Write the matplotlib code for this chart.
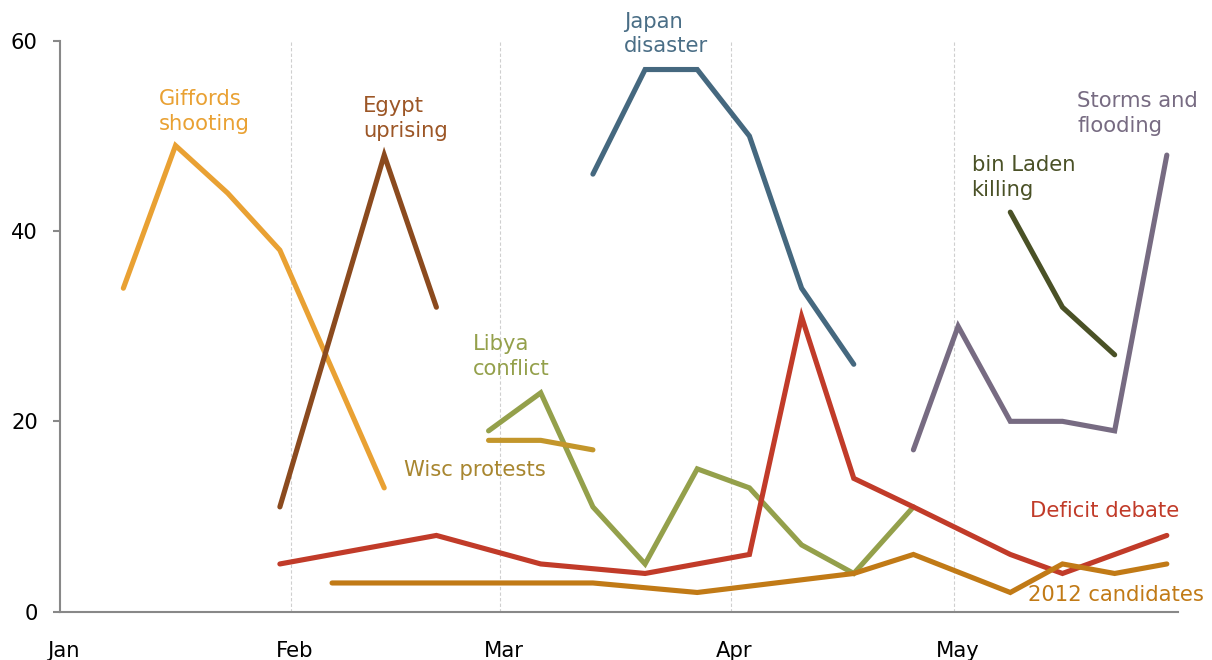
import matplotlib
matplotlib.use("Agg")
import matplotlib.pyplot as plt
import matplotlib.dates as mdates
import numpy as np

# Weekly news-coverage share (%) by story, 2011
giffords_dates = ["2011-01-09", "2011-01-16", "2011-01-23", "2011-01-30", "2011-02-13"]
giffords_vals = [34, 49, 44, 38, 13]

egypt_dates = ["2011-01-30", "2011-02-13", "2011-02-20"]
egypt_vals = [11, 48, 32]

japan_dates = ["2011-03-13", "2011-03-20", "2011-03-27", "2011-04-03", "2011-04-10", "2011-04-17"]
japan_vals = [46, 57, 57, 50, 34, 26]

libya_dates = ["2011-02-27", "2011-03-06", "2011-03-13", "2011-03-20", "2011-03-27",
               "2011-04-03", "2011-04-10", "2011-04-17", "2011-04-25"]
libya_vals = [19, 23, 11, 5, 15, 13, 7, 4, 11]

wisc_dates = ["2011-02-27", "2011-03-06", "2011-03-13"]
wisc_vals = [18, 18, 17]

deficit_dates = ["2011-01-30", "2011-02-20", "2011-03-06", "2011-03-20", "2011-04-03", "2011-04-10",
                 "2011-04-17", "2011-04-25", "2011-05-08", "2011-05-15", "2011-05-29"]
deficit_vals = [5, 8, 5, 4, 6, 31, 14, 11, 6, 4, 8]

cand_dates = ["2011-02-06", "2011-03-13", "2011-03-27", "2011-04-17", "2011-04-25",
              "2011-05-08", "2011-05-15", "2011-05-22", "2011-05-29"]
cand_vals = [3, 3, 2, 4, 6, 2, 5, 4, 5]

laden_dates = ["2011-05-08", "2011-05-15", "2011-05-22"]
laden_vals = [42, 32, 27]

storms_dates = ["2011-04-25", "2011-05-01", "2011-05-08", "2011-05-15", "2011-05-22", "2011-05-29"]
storms_vals = [17, 30, 20, 20, 19, 48]

month_starts = ["2011-01-01", "2011-02-01", "2011-03-01", "2011-04-01", "2011-05-01"]
month_labels = ["Jan", "Feb", "Mar", "Apr", "May"]
y_ticks = [0, 20, 40, 60]

# (dates, values, line colour, label text, label colour, label x in days from Jan 1, label top y)
series = [
    (giffords_dates, giffords_vals, "#E9A133", "Giffords\nshooting", "#E9A133", 13.3, 54.9),
    (egypt_dates, egypt_vals, "#8B4A1E", "Egypt\nuprising", "#9C5626", 40.7, 54.2),
    (japan_dates, japan_vals, "#45687F", "Japan\ndisaster", "#4A6E86", 75.7, 63.1),
    (libya_dates, libya_vals, "#94A04B", "Libya\nconflict", "#94A04B", 55.4, 29.2),
    (wisc_dates, wisc_vals, "#C3962B", "Wisc protests", "#A8862F", 46.2, 15.9),
    (deficit_dates, deficit_vals, "#C13B29", "Deficit debate", "#C13B29", 130.1, 11.6),
    (cand_dates, cand_vals, "#C17A16", "2012 candidates", "#C17A16", 129.9, 2.8),
    (laden_dates, laden_vals, "#4A5126", "bin Laden\nkilling", "#4A5126", 122.3, 48.0),
    (storms_dates, storms_vals, "#776B82", "Storms and\nflooding", "#776B82", 136.5, 54.7),
]

plt.rcParams["font.family"] = ["DejaVu Sans"]
FS = 15.2

fig = plt.figure(figsize=(12.12, 6.6), dpi=100)
ax = fig.add_axes([60 / 1212, 48.5 / 660, 1118 / 1212, 570.5 / 660])

jan1 = mdates.datestr2num("2011-01-01")
half_day = 0.5

for dates, vals, color, label, lcolor, lx, ly in series:
    x = mdates.datestr2num(dates) + half_day
    ax.plot(x, vals, color=color, lw=3.7, solid_capstyle="round", solid_joinstyle="miter")
    ax.text(jan1 + lx, ly, label, color=lcolor, fontsize=FS, ha="left", va="top",
            linespacing=1.3)

for m in month_starts[1:]:
    ax.axvline(mdates.datestr2num(m), color="#CFCFCF", lw=0.8, ls=(0, (3, 2)), zorder=0)

ax.set_xlim(jan1, mdates.datestr2num("2011-05-31"))
ax.set_ylim(0, 60)
ax.set_xticks(mdates.datestr2num(month_starts) + half_day)
ax.set_xticklabels(month_labels)
ax.set_yticks(y_ticks)

for s in ["top", "right"]:
    ax.spines[s].set_visible(False)
for s in ["left", "bottom"]:
    ax.spines[s].set_color("#888888")
    ax.spines[s].set_linewidth(1.5)

ax.tick_params(axis="x", length=0, pad=21, labelsize=FS, colors="black")
ax.tick_params(axis="y", length=5, width=1.5, color="#888888", pad=11, labelsize=FS)

fig.savefig("out.png", dpi=100)
